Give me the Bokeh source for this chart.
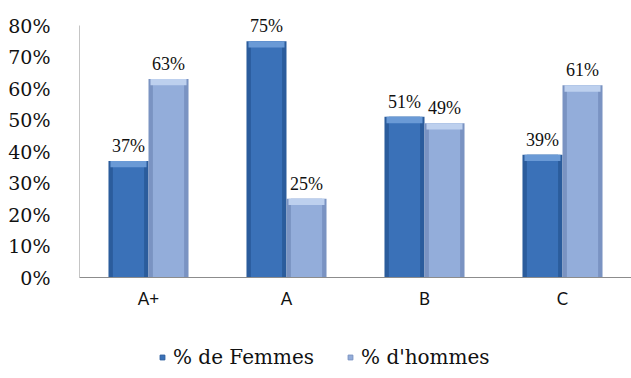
from bokeh.plotting import figure
from bokeh.layouts import column
from bokeh.models import ColumnDataSource, FactorRange, Range1d, NumeralTickFormatter, FixedTicker, Legend, LegendItem, LabelSet
from bokeh.transform import dodge
from bokeh.embed import file_html
from bokeh.resources import INLINE

categories = ["A+", "A", "B", "C"]
femmes = [0.37, 0.75, 0.51, 0.39]
hommes = [0.63, 0.25, 0.49, 0.61]
series_names = ["% de Femmes", "% d'hommes"]
y_ticks = [0, 0.1, 0.2, 0.3, 0.4, 0.5, 0.6, 0.7, 0.8]

BEVEL = 0.02  # depth of the lighter top bevel, in data units

src = ColumnDataSource(dict(
    cat=categories,
    femmes=femmes,
    hommes=hommes,
    femmes_b=[v - BEVEL for v in femmes],
    hommes_b=[v - BEVEL for v in hommes],
    f_lab=[f"{round(v * 100)}%" for v in femmes],
    h_lab=[f"{round(v * 100)}%" for v in hommes],
))

PX_PER_UNIT = 315.0  # 252 px of frame for 0..80 %
FRAME_H = 277
p = figure(
    x_range=FactorRange(*categories, range_padding=0),
    y_range=Range1d(0, FRAME_H / PX_PER_UNIT),
    frame_width=552, frame_height=FRAME_H,
    output_backend="svg", toolbar_location=None,
    min_border_left=79, min_border_right=0, min_border_top=0, min_border_bottom=43,
)
p.outline_line_color = None
p.xgrid.grid_line_color = None
p.ygrid.grid_line_color = None
p.background_fill_color = "white"

SERIF = "DejaVu Serif"
bw = 0.29

styles = {
    "femmes": dict(edge="#2B5C9C", body="#3A71B8", top="#6A9AD6", off=-bw / 2, lab="f_lab"),
    "hommes": dict(edge="#7A93C2", body="#93ADDA", top="#BDD0EE", off=bw / 2, lab="h_lab"),
}

for col, st in styles.items():
    x = dodge("cat", st["off"], range=p.x_range)
    p.vbar(x=x, top=col, width=bw, source=src, fill_color=st["edge"], line_color=None)
    p.vbar(x=x, top=col, width=bw * 0.78, source=src, fill_color=st["body"], line_color=None)
    p.vbar(x=x, top=col, bottom=col + "_b", width=bw * 0.9, source=src,
           fill_color=st["top"], line_color=None)
    p.add_layout(LabelSet(x=x, y=col, text=st["lab"], source=src,
                          text_align="center", text_baseline="bottom", y_offset=5,
                          text_font=SERIF, text_font_size="18px", text_color="#111111"))

# y axis line only spans the 0..80 % tick range
p.segment(x0=0, y0=y_ticks[0], x1=0, y1=y_ticks[-1], line_color="#8C8C8C", line_width=1)

p.yaxis.ticker = FixedTicker(ticks=y_ticks)
p.yaxis.formatter = NumeralTickFormatter(format="0%")
p.yaxis.major_label_text_font = SERIF
p.yaxis.major_label_text_font_size = "19px"
p.yaxis.major_label_text_color = "#111111"
p.yaxis.major_label_standoff = 23
p.yaxis.major_tick_line_color = None
p.yaxis.minor_tick_line_color = None
p.yaxis.axis_line_color = None

p.xaxis.major_label_text_font = "Lato"
p.xaxis.major_label_text_font_size = "17px"
p.xaxis.major_label_text_color = "#111111"
p.xaxis.major_label_standoff = 4
p.xaxis.major_tick_line_color = None
p.xaxis.axis_line_color = "#8C8C8C"

# legend strip under the chart; its key glyphs sit outside the visible range
leg = figure(
    x_range=Range1d(0, 1), y_range=Range1d(0, 1),
    frame_width=631, frame_height=58,
    output_backend="svg", toolbar_location=None,
    min_border=0,
)
leg.axis.visible = False
leg.grid.visible = False
leg.outline_line_color = None
keys = []
for col in ("femmes", "hommes"):
    st = styles[col]
    keys.append(leg.scatter(x=[-5], y=[-5], marker="square", size=12,
                            fill_color=st["body"], line_color=st["edge"]))

legend = Legend(items=[LegendItem(label=series_names[0], renderers=[keys[0]]),
                       LegendItem(label=series_names[1], renderers=[keys[1]])],
                orientation="horizontal", location=(156, 9),
                label_text_font=SERIF, label_text_font_size="20px", label_text_color="#111111",
                glyph_width=12, glyph_height=12, label_standoff=5, spacing=30,
                border_line_color=None, background_fill_alpha=0, margin=0, padding=4)
leg.add_layout(legend, "center")

open("out.html", "w").write(file_html(column(p, leg, spacing=0), INLINE))
